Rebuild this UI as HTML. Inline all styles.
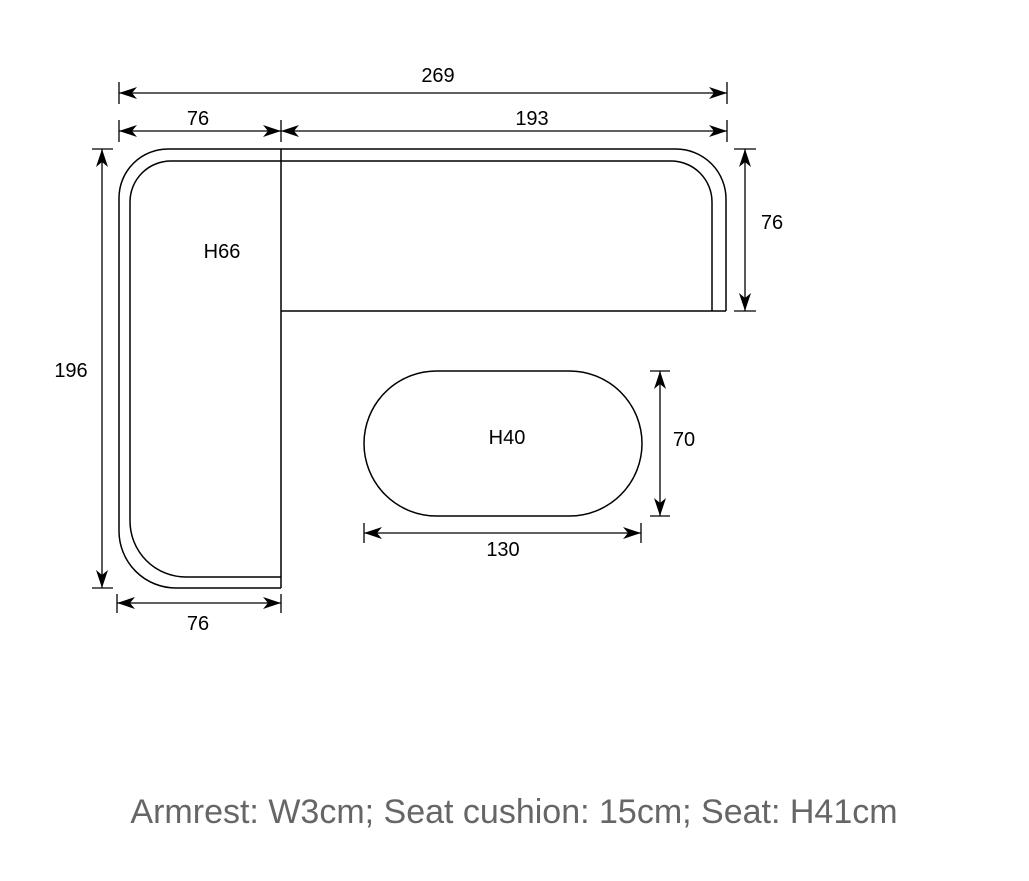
<!DOCTYPE html>
<html><head><style>body{margin:0;background:#fff}svg{display:block}</style></head><body>
<svg width="1029" height="881" viewBox="0 0 1029 881" xmlns="http://www.w3.org/2000/svg">
<defs>
<marker id="a" viewBox="0 0 18 12" refX="18" refY="6" markerWidth="18" markerHeight="12" markerUnits="userSpaceOnUse" orient="auto-start-reverse"><path d="M0,0 L18,6 L0,12 L5,6 Z" fill="#000"/></marker>
</defs>
<g fill="none" stroke="#000" stroke-width="1.5">
<path d="M281,588 L176,588 A57,57 0 0 1 119,531 L119,198 A49,49 0 0 1 168,149 L676,149 A50,50 0 0 1 726,199 L726,311"/>
<path d="M281,577 L186,577 A56,56 0 0 1 130,521 L130,202 A41,41 0 0 1 171,161 L671,161 A41,41 0 0 1 712,202 L712,311"/>
<line x1="281" y1="149" x2="281" y2="588"/>
<line x1="281" y1="311" x2="726" y2="311"/>
<rect x="364" y="371" width="278" height="145" rx="72.5" ry="72.5"/>
</g>
<g stroke="#000" stroke-width="1.3" fill="none">
<line x1="119" y1="82" x2="119" y2="104"/><line x1="727" y1="82" x2="727" y2="104"/>
<line x1="119" y1="120" x2="119" y2="142"/><line x1="281" y1="120" x2="281" y2="142"/><line x1="727" y1="120" x2="727" y2="142"/>
<line x1="92" y1="149" x2="113" y2="149"/><line x1="92" y1="588" x2="113" y2="588"/>
<line x1="734" y1="149" x2="756" y2="149"/><line x1="734" y1="311" x2="756" y2="311"/>
<line x1="117" y1="594" x2="117" y2="613"/><line x1="281" y1="594" x2="281" y2="613"/>
<line x1="650" y1="371" x2="670" y2="371"/><line x1="650" y1="516" x2="670" y2="516"/>
<line x1="364" y1="523" x2="364" y2="543"/><line x1="641" y1="523" x2="641" y2="543"/>
<line x1="119" y1="93" x2="727" y2="93" marker-start="url(#a)" marker-end="url(#a)"/>
<line x1="119" y1="131" x2="281" y2="131" marker-start="url(#a)" marker-end="url(#a)"/>
<line x1="281" y1="131" x2="727" y2="131" marker-start="url(#a)" marker-end="url(#a)"/>
<line x1="102" y1="149" x2="102" y2="588" marker-start="url(#a)" marker-end="url(#a)"/>
<line x1="745" y1="149" x2="745" y2="311" marker-start="url(#a)" marker-end="url(#a)"/>
<line x1="117" y1="603" x2="281" y2="603" marker-start="url(#a)" marker-end="url(#a)"/>
<line x1="660" y1="371" x2="660" y2="516" marker-start="url(#a)" marker-end="url(#a)"/>
<line x1="364" y1="533" x2="641" y2="533" marker-start="url(#a)" marker-end="url(#a)"/>
</g>
<g font-family="Liberation Sans, sans-serif" font-size="20" fill="#000" text-anchor="middle">
<text x="438" y="82">269</text>
<text x="198" y="125">76</text>
<text x="532" y="125">193</text>
<text x="222" y="258">H66</text>
<text x="71" y="377">196</text>
<text x="772" y="229">76</text>
<text x="507" y="444">H40</text>
<text x="684" y="446">70</text>
<text x="503" y="556">130</text>
<text x="198" y="630">76</text>
</g>
<text x="514" y="823" font-family="Liberation Sans, sans-serif" font-size="34" fill="#666" text-anchor="middle">Armrest: W3cm; Seat cushion: 15cm; Seat: H41cm</text>
</svg>
</body></html>
